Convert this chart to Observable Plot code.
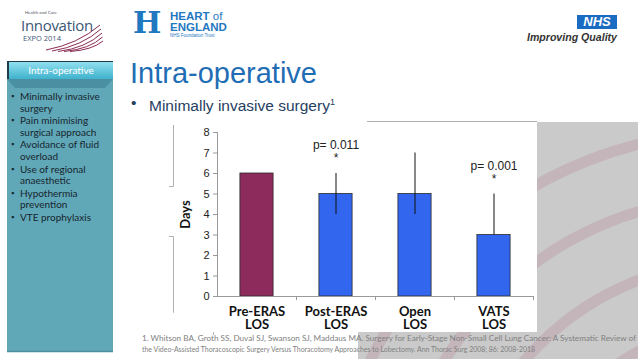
<!DOCTYPE html>
<html>
<head>
<meta charset="utf-8">
<script src="https://cdn.jsdelivr.net/npm/d3@7"></script>
<script src="https://cdn.jsdelivr.net/npm/@observablehq/plot@0.6"></script>
<style>
  html, body { margin: 0; padding: 0; background: #fff; }
  #slide { position: relative; width: 638px; height: 359px; overflow: hidden; background-color: #fff; font-family: "Liberation Sans", Arial, sans-serif; }
  .abs { position: absolute; white-space: nowrap; }
  #panelBox { position: absolute; left: 7px; top: 79px; width: 0; height: 0; border-left: 106px solid #60a7b8; border-top: 273px solid #60a7b8; }
  #decoBox { position: absolute; left: 358px; top: 122px; width: 0; height: 0; border-left: 280px solid #cacaca; border-top: 237px solid #cacaca; }
  #sidelist { position: absolute; left: 11px; top: 91px; font: 10px Lato, sans-serif; color: #17262d; line-height: 11.5px; }
  #sidelist div { position: relative; padding-left: 9px; margin-bottom: 1.2px; }
  #sidelist div::before { content: "▪"; position: absolute; left: 0; top: 0; font-size: 8px; }
  #chart { position: absolute; left: 174px; top: 122px; }
  .fn { position: absolute; left: 142px; font: 8px Lato, sans-serif; color: #808080; white-space: nowrap; transform-origin: 0 0; }
</style>
</head>
<body>
<div id="slide">
  <div id="panelBox"></div>
  <div id="decoBox"></div>
  <!-- background decoration: gray arcs region, sidebar panel, frame lines -->
  <svg width="638" height="359" style="position:absolute;left:0;top:0;">
    <defs>
      <clipPath id="decoClip"><rect x="358" y="122" width="280" height="237"/></clipPath>
      <linearGradient id="hdr" x1="0" y1="0" x2="0" y2="1">
        <stop offset="0" stop-color="#96e2f0"/>
        <stop offset="1" stop-color="#3fb2cd"/>
      </linearGradient>
    </defs>
    <path d="M358 240.5 H638" stroke="#cacaca" stroke-width="237" fill="none"/>
    <g clip-path="url(#decoClip)">
      <g fill="none" stroke="#c4b5bb" stroke-width="11">
        <circle cx="738" cy="542" r="150"/>
        <circle cx="738" cy="542" r="215"/>
        <circle cx="738" cy="542" r="280"/>
        <circle cx="738" cy="542" r="345"/>
        <circle cx="738" cy="542" r="410"/>
      </g>
    </g>
    <!-- sidebar -->
    <path d="M7 215.5 H113" stroke="#60a7b8" stroke-width="273" fill="none"/>
    <path d="M7 351.5 H113" stroke="#4d8e9e" stroke-width="1.5" fill="none"/>
    <polygon points="7,79 113,79 105,88 15,88" fill="#4a90a2"/>
    <rect x="7" y="61" width="106" height="18" fill="url(#hdr)"/>
    <rect x="7" y="61" width="106" height="1" fill="#1d3d49"/>
    <rect x="7" y="61" width="2" height="18" fill="#1d3d49"/>
    <!-- chart frame leftovers -->
    <g stroke="#b0b0b0" stroke-width="1" fill="none">
      <path d="M367 121.5 H537"/>
      <path d="M173.5 125 V186.5 H169"/>
      <path d="M169 236.5 H173.5 V312.5 H213.5 V335"/>
    </g>
  </svg>

  <!-- Innovation Expo logo -->
  <div class="abs" style="left:25px; top:10px; font:4.5px Lato, sans-serif; line-height:5px; color:#556;">Health and Care</div>
  <div class="abs" style="left:21px; top:17px; font:15px 'Open Sans', sans-serif; line-height:16px; color:#3b5675; letter-spacing:-0.3px;">Innovation</div>
  <div class="abs" style="left:23px; top:34px; font:7.5px 'Open Sans', sans-serif; line-height:8px; color:#3b5675;">EXPO 2014</div>
  <svg class="abs" style="left:38px; top:22px;" width="66" height="30">
    <g fill="none" stroke="#8a2b52" stroke-width="1">
      <path d="M8 28 Q40 22 62 3"/>
      <path d="M14 29 Q44 24 63 7"/>
      <path d="M20 29.5 Q48 26 64 11"/>
      <path d="M26 29.5 Q52 27 64.5 15"/>
      <path d="M32 29.5 Q54 28 65 19"/>
    </g>
  </svg>

  <!-- Heart of England logo -->
  <div class="abs" style="left:133px; top:5px; font:bold 30px 'DejaVu Serif', serif; color:#1f78c0;">H</div>
  <div class="abs" style="left:170px; top:10px; font:bold 11.5px 'Liberation Sans', sans-serif; color:#1f78c0;">HEART <span style="font-weight:normal">of</span></div>
  <div class="abs" style="left:170px; top:21px; font:bold 11.5px 'Liberation Sans', sans-serif; color:#1f78c0;">ENGLAND</div>
  <div class="abs" style="left:170px; top:33px; font:4.5px 'Liberation Sans', sans-serif; color:#1f78c0;">NHS Foundation Trust</div>

  <!-- NHS logo -->
  <div class="abs" style="left:577px; top:15px; width:40px; height:14px; background-color:#1a6bc2; color:#fff; font:italic bold 13px 'Liberation Sans', sans-serif; text-align:center; line-height:14px;">NHS</div>
  <div class="abs" style="right:21px; top:31px; font:italic bold 10.6px 'Liberation Sans', sans-serif; color:#333;">Improving Quality</div>

  <!-- Sidebar texts -->
  <div class="abs" style="left:9px; top:62px; width:104px; height:17px; color:#fff; font:10px Lato, sans-serif; text-align:center; line-height:17px;">Intra-operative</div>
  <div id="sidelist">
    <div>Minimally invasive<br>surgery</div>
    <div>Pain minimising<br>surgical approach</div>
    <div>Avoidance of fluid<br>overload</div>
    <div>Use of regional<br>anaesthetic</div>
    <div>Hypothermia<br>prevention</div>
    <div>VTE prophylaxis</div>
  </div>

  <!-- Title and bullet -->
  <div class="abs" style="left:130px; top:59px; font:29px 'Liberation Sans', sans-serif; line-height:29px; color:#1f6db4;">Intra-operative</div>
  <div class="abs" style="left:131px; top:95px; font:15.5px 'Liberation Sans', sans-serif; line-height:15px; color:#26405f;">•</div>
  <div class="abs" style="left:149px; top:95px; font:15.5px 'Liberation Sans', sans-serif; line-height:15px; color:#26405f;">Minimally invasive surgery<sup style="font-size:9px; vertical-align:6px;">1</sup></div>

  <div id="chart"></div>

  <div class="fn" id="fn1" style="top:333px;">1. Whitson BA, Groth SS, Duval SJ, Swanson SJ, Maddaus MA. Surgery for Early-Stage Non-Small Cell Lung Cancer: A Systematic Review of</div>
  <div class="fn" id="fn2" style="top:344px;">the Video-Assisted Thoracoscopic Surgery Versus Thoracotomy Approaches to Lobectomy. Ann Thorac Surg 2008; 86: 2008-2018</div>
</div>

<script>
// ---- data ----
const categories = ["Pre-ERAS\nLOS", "Post-ERAS\nLOS", "Open\nLOS", "VATS\nLOS"];
const days = [6, 5, 5, 3];
const errLow = [null, 4, 4, 3];
const errHigh = [null, 6, 7, 5];
const pLabels = [null, "p= 0.011", null, "p= 0.001"];
const stars = [null, "*", null, "*"];
const barColors = ["#8c2b5c", "#3366ee", "#3366ee", "#3366ee"];
const yTicks = [0, 1, 2, 3, 4, 5, 6, 7, 8];
const yLabel = "Days";

// ---- table built from arrays ----
const rows = categories.map((c, i) => ({
  i, c, v: days[i], lo: errLow[i], hi: errHigh[i], p: pLabels[i], star: stars[i], color: barColors[i]
}));
const xDomain = [-0.5, categories.length - 0.5];
const yDomain = [0, yTicks[yTicks.length - 1]];
const halfBar = 0.21;
const boundaries = categories.map((c, i) => i + 0.5);

const chart = Plot.plot({
  width: 363,
  height: 210,
  marginLeft: 43,
  marginRight: 4,
  marginTop: 10,
  marginBottom: 36,
  style: { background: "white", fontFamily: "'Liberation Sans', Arial, sans-serif", fontSize: "11px", color: "#222", overflow: "visible" },
  x: { domain: xDomain, axis: null },
  y: { domain: yDomain, axis: null },
  color: { type: "identity" },
  marks: [
    Plot.rectY(rows, { x1: d => d.i - halfBar, x2: d => d.i + halfBar, y1: 0, y2: "v", fill: "color", stroke: "#2b2b2b", strokeWidth: 0.8 }),
    Plot.ruleX(rows.filter(d => d.hi != null), { x: "i", y1: "lo", y2: "hi", stroke: "#111", strokeWidth: 1 }),
    Plot.ruleY([0], { stroke: "#999" }),
    Plot.ruleX([xDomain[0]], { y1: yDomain[0], y2: yDomain[1], stroke: "#999" }),
    Plot.ruleX(boundaries, { y1: 0, y2: -0.2, stroke: "#999" }),
    Plot.axisY({ ticks: yTicks, tickSize: 4, tickPadding: 4, stroke: "#999", fontSize: 11 }),
    Plot.axisX({ ticks: categories.map((c, i) => i), tickFormat: i => categories[i], tickSize: 0, tickPadding: 10,
      fontSize: 13, fontWeight: "bold", fontFamily: "Lato, sans-serif", lineHeight: 1, label: null, fill: "#111" }),
    Plot.text([yLabel], { frameAnchor: "left", rotate: -90, dx: -32, textAnchor: "middle",
      fontSize: 13, fontWeight: "bold", fontFamily: "Lato, sans-serif", fill: "#111" }),
    Plot.text(rows.filter(d => d.p), { x: "i", y: "hi", text: "p", dy: -28, fontSize: 12, fill: "#222" }),
    Plot.text(rows.filter(d => d.star), { x: "i", y: "hi", text: "star", dy: -15, fontSize: 12, fill: "#222" })
  ]
});
document.getElementById("chart").appendChild(chart);

// fit footnote lines to their measured widths in the reference
function fit(id, w) {
  const el = document.getElementById(id);
  const actual = el.getBoundingClientRect().width;
  if (actual > 0) el.style.transform = `scaleX(${w / actual})`;
}
fit("fn1", 494);
fit("fn2", 393);
</script>
</body>
</html>
